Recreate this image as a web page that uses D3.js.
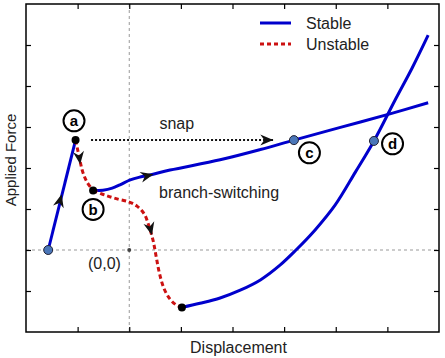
<!DOCTYPE html>
<html>
<head>
<meta charset="utf-8">
<script src="https://cdn.jsdelivr.net/npm/d3@7"></script>
<style>
  body { margin: 0; background: #fff; }
  text { font-family: "Liberation Sans", Arial, sans-serif; fill: #222; }
</style>
</head>
<body>
<svg id="plot"></svg>
<script>
// Define data (displacement, force)
const loading = [[-1.57, 0], [-1.04, 2.68]];
const unstableAB = [[-1.04, 2.68], [-0.99, 2.39], [-0.95, 2.15], [-0.90, 1.90], [-0.82, 1.66], [-0.70, 1.45]];
const unstableBMin = [[-0.70, 1.45], [-0.47, 1.34], [-0.22, 1.24], [0.0, 1.17], [0.15, 1.07], [0.29, 0.88],
    [0.38, 0.59], [0.46, 0.24], [0.52, -0.15], [0.58, -0.54], [0.67, -0.93], [0.79, -1.20], [0.91, -1.34], [1.02, -1.40]];
const stableB = [[-0.70, 1.45], [-0.51, 1.46], [-0.33, 1.51], [-0.18, 1.59], [0.02, 1.71], [0.21, 1.78],
    [0.40, 1.83], [0.79, 1.95], [1.76, 2.20], [2.54, 2.45], [3.19, 2.68], [4.09, 2.99], [5.05, 3.32], [5.79, 3.59]];
const stableMin = [[1.02, -1.40], [1.37, -1.30], [1.76, -1.17], [2.15, -0.98], [2.54, -0.73], [2.92, -0.37],
    [3.23, 0], [3.60, 0.49], [3.99, 1.10], [4.38, 1.90], [4.74, 2.66], [5.15, 3.66], [5.48, 4.44], [5.79, 5.24]];
const snap = [[-0.74, 2.68], [2.79, 2.68]];

const blackDots = [[-1.04, 2.68], [-0.70, 1.45], [1.02, -1.40]];
const blueDots = [[-1.57, 0], [3.19, 2.68], [4.74, 2.66]];

// point labels: name, position
const pointLabels = [
    { name: 'a', x: -1.07, y: 3.15 },
    { name: 'b', x: -0.70, y: 0.99 },
    { name: 'c', x: 3.49, y: 2.37 },
    { name: 'd', x: 5.10, y: 2.59 }
];

// direction arrows: position and a second point giving the direction
const arrows = [
    { x: -1.31, y: 1.36, tx: -1.04, ty: 2.68 },
    { x: -0.95, y: 2.09, tx: -0.93, ty: 1.90 },
    { x: 0.47, y: 1.85, tx: 0.79, ty: 1.95 },
    { x: 0.44, y: 0.36, tx: 0.49, ty: 0.10 }
];

const xTicks = [-1, 0, 1, 2, 3, 4, 5];
const yTicks = [-1, 0, 1, 2, 3, 4, 5];

let margin = { top: 4, bottom: 26, left: 26, right: 6 };
let width = 445 - margin.left - margin.right;
let height = 358 - margin.top - margin.bottom;

let svg = d3.select('#plot')
    .attr('width', 445)
    .attr('height', 358)
    .append('g')
    .attr('transform', `translate(${margin.left}, ${margin.top})`);

let xScale = d3.scaleLinear().domain([-2, 6]).range([0, width]);
let yScale = d3.scaleLinear().domain([-2, 6]).range([height, 0]);

// zero reference lines
svg.append('line')
    .attr('x1', xScale(0)).attr('x2', xScale(0))
    .attr('y1', 0).attr('y2', height)
    .attr('stroke', '#999').attr('stroke-width', 1).attr('stroke-dasharray', '3,3');
svg.append('line')
    .attr('x1', 0).attr('x2', width)
    .attr('y1', yScale(0)).attr('y2', yScale(0))
    .attr('stroke', '#999').attr('stroke-width', 1).attr('stroke-dasharray', '3,3');

// inward ticks on all four sides
function ticks(axis, tr) {
    let g = svg.append('g').attr('transform', tr).call(axis.tickSize(-5).tickFormat(''));
    g.select('.domain').remove();
    g.selectAll('line').attr('stroke', '#000').attr('stroke-width', 1.2);
}
ticks(d3.axisBottom(xScale).tickValues(xTicks), `translate(0, ${height})`);
ticks(d3.axisTop(xScale).tickValues(xTicks), 'translate(0, 0)');
ticks(d3.axisLeft(yScale).tickValues(yTicks), 'translate(0, 0)');
ticks(d3.axisRight(yScale).tickValues(yTicks), `translate(${width}, 0)`);

let line = d3.line().x(d => xScale(d[0])).y(d => yScale(d[1])).curve(d3.curveCatmullRom);

// stable branches
[loading, stableB, stableMin].forEach(function(d) {
    svg.append('path').datum(d)
        .attr('d', line)
        .attr('fill', 'none')
        .attr('stroke', '#0000cc')
        .attr('stroke-width', 3);
});

// unstable branches
[unstableAB, unstableBMin].forEach(function(d) {
    svg.append('path').datum(d)
        .attr('d', line)
        .attr('fill', 'none')
        .attr('stroke', '#cc1111')
        .attr('stroke-width', 3)
        .attr('stroke-dasharray', '4.5,3');
});

// snap arrow
svg.append('path').datum(snap)
    .attr('d', d3.line().x(d => xScale(d[0])).y(d => yScale(d[1])))
    .attr('stroke', '#111')
    .attr('stroke-width', 2)
    .attr('stroke-dasharray', '2,2');

let arrowShape = 'M0,0 L-13,-5.5 L-9,0 L-13,5.5 Z';
function drawArrow(x, y, tx, ty) {
    let px = xScale(x), py = yScale(y);
    let ang = Math.atan2(yScale(ty) - py, xScale(tx) - px) * 180 / Math.PI;
    svg.append('path')
        .attr('d', arrowShape)
        .attr('transform', `translate(${px}, ${py}) rotate(${ang})`)
        .attr('fill', '#111');
}
drawArrow(snap[1][0], snap[1][1], snap[1][0] + 1, snap[1][1]);
arrows.forEach(a => drawArrow(a.x, a.y, a.tx, a.ty));

// points
svg.selectAll('.bdot')
    .data(blackDots)
    .enter()
    .append('circle')
    .attr('cx', d => xScale(d[0]))
    .attr('cy', d => yScale(d[1]))
    .attr('r', 4)
    .attr('fill', '#000');

svg.selectAll('.udot')
    .data(blueDots)
    .enter()
    .append('circle')
    .attr('cx', d => xScale(d[0]))
    .attr('cy', d => yScale(d[1]))
    .attr('r', 4.5)
    .attr('fill', '#4a76b8')
    .attr('stroke', '#223')
    .attr('stroke-width', 1);

// origin marker
svg.append('circle')
    .attr('cx', xScale(0)).attr('cy', yScale(0))
    .attr('r', 2).attr('fill', '#444');

// point labels
let lab = svg.selectAll('.plabel')
    .data(pointLabels)
    .enter()
    .append('g')
    .attr('transform', d => `translate(${xScale(d.x)}, ${yScale(d.y)})`);
lab.append('circle')
    .attr('r', 10.5)
    .attr('fill', '#fff')
    .attr('stroke', '#000')
    .attr('stroke-width', 2);
lab.append('text')
    .attr('text-anchor', 'middle')
    .attr('dy', '0.36em')
    .style('font-size', '15px')
    .style('font-weight', 'bold')
    .style('fill', '#000')
    .text(d => d.name);

// annotations
svg.append('text')
    .attr('x', xScale(0.92)).attr('y', yScale(2.95))
    .attr('text-anchor', 'middle')
    .style('font-size', '16px')
    .text('snap');
svg.append('text')
    .attr('x', xScale(1.74)).attr('y', yScale(1.27))
    .attr('text-anchor', 'middle')
    .style('font-size', '16px')
    .text('branch-switching');
svg.append('text')
    .attr('x', xScale(-0.48)).attr('y', yScale(-0.47))
    .attr('text-anchor', 'middle')
    .style('font-size', '16px')
    .text('(0,0)');

// axis labels
svg.append('text')
    .attr('x', width / 2 + 6)
    .attr('y', height + margin.bottom - 5)
    .attr('text-anchor', 'middle')
    .style('font-size', '16px')
    .text('Displacement');
svg.append('text')
    .attr('transform', 'rotate(-90)')
    .attr('x', -156)
    .attr('y', -margin.left + 16)
    .attr('text-anchor', 'middle')
    .style('font-size', '15px')
    .text('Applied Force');

// legend
let legendItems = [
    { label: 'Stable', color: '#0000cc', dash: null },
    { label: 'Unstable', color: '#cc1111', dash: '4,3' }
];
let legend = svg.selectAll('.legend')
    .data(legendItems)
    .enter()
    .append('g')
    .attr('transform', (d, i) => `translate(${234}, ${19 + i * 21})`);
legend.append('line')
    .attr('x1', 0).attr('x2', 31)
    .attr('stroke', d => d.color)
    .attr('stroke-width', 3)
    .attr('stroke-dasharray', d => d.dash);
legend.append('text')
    .attr('x', 46)
    .attr('dy', '0.35em')
    .style('font-size', '16px')
    .text(d => d.label);

// frame
svg.append('rect')
    .attr('width', width).attr('height', height)
    .attr('fill', 'none')
    .attr('stroke', '#000')
    .attr('stroke-width', 1.5);
</script>
</body>
</html>
